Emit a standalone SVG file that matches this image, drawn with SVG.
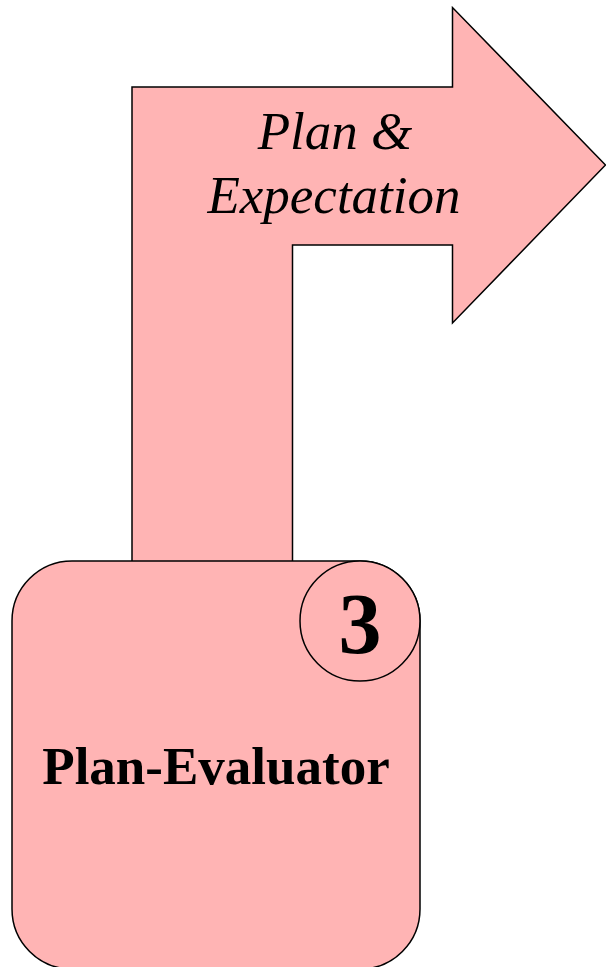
<svg xmlns="http://www.w3.org/2000/svg" width="606" height="967" viewBox="0 0 606 967">
<style>
.shape{fill:#FFB4B4;stroke:#000;stroke-width:1.5}
.lbl{font-family:"Liberation Serif","Times New Roman",serif;fill:#000;text-anchor:middle}
</style>
<rect width="606" height="967" fill="#fff"/>
<g id="connectors">
<path class="shape" d="M132,561 L132,87 L452.5,87 L452.5,7.5 L605.5,165 L452.5,323 L452.5,245 L292.5,245 L292.5,561"/>
<text class="lbl" x="335" y="149" font-size="53" font-style="italic">Plan &amp;</text>
<text class="lbl" x="334" y="212.5" font-size="53" font-style="italic">Expectation</text>
</g>
<g id="plan-evaluator">
<rect class="shape" x="12" y="561" width="408" height="408" rx="60" ry="60"/>
<circle class="shape" cx="360" cy="621" r="60"/>
<text class="lbl" x="360" y="653" font-size="86" font-weight="bold">3</text>
<text class="lbl" x="216" y="784" font-size="53" font-weight="bold">Plan-Evaluator</text>
</g>
</svg>
